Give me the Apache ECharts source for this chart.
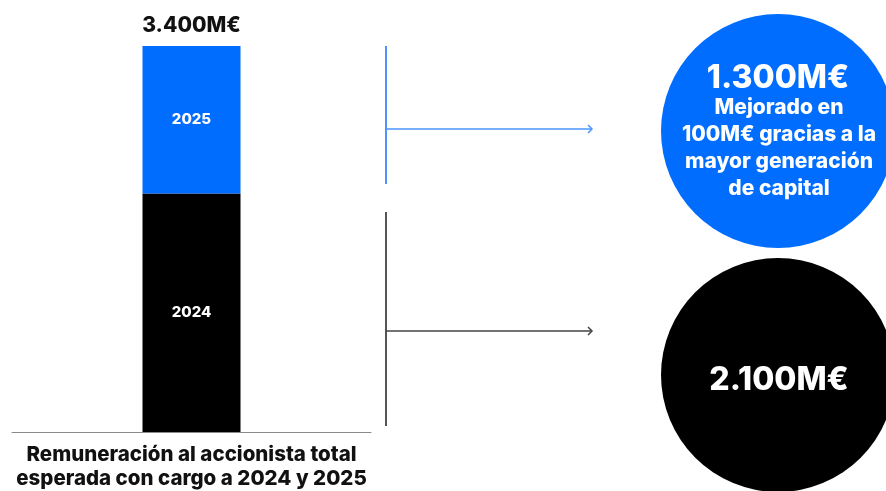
<!DOCTYPE html>
<html>
<head>
<meta charset="utf-8">
<script src="https://cdn.jsdelivr.net/npm/echarts@6/dist/echarts.min.js"></script>
<style>
  html, body { margin: 0; padding: 0; background: #fff; }
  #chart { width: 886px; height: 491px; }
</style>
</head>
<body>
<div id="chart"></div>
<script>
// datos
let categories = ['Remuneración al accionista total\nesperada con cargo a 2024 y 2025']
let years = ['2024', '2025']
let values2024 = [2100]
let values2025 = [1300]
let totalLabel = '3.400M€'
let circleMain = ['2.100M€', '1.300M€']
let circleNote = 'Mejorado en\n100M€ gracias a la\nmayor generación\nde capital'

let font = 'Inter'
let blue = '#006dff'
let black = '#000000'

let myChart = echarts.init(document.getElementById('chart'))
let option = {
  animation: false,
  grid: {
    left: 12,
    right: 515,
    top: 46,
    bottom: 53
  },
  xAxis: {
    type: 'category',
    data: categories,
    axisTick: { show: false },
    axisLine: {
      lineStyle: { color: '#8a8a8a', width: 1 }
    },
    axisLabel: {
      color: '#111',
      fontFamily: font,
      fontWeight: 800,
      fontSize: 20.5,
      lineHeight: 24,
      margin: 11
    }
  },
  yAxis: {
    type: 'value',
    min: 0,
    max: 3400,
    show: false,
    splitLine: { show: false }
  },
  series: [
    {
      name: years[0],
      type: 'bar',
      stack: 'total',
      barWidth: 98,
      itemStyle: { color: black },
      label: {
        show: true,
        position: 'inside',
        formatter: years[0],
        color: '#fff',
        fontFamily: font,
        fontWeight: 800,
        fontSize: 15
      },
      data: values2024
    },
    {
      name: years[1],
      type: 'bar',
      stack: 'total',
      barWidth: 98,
      itemStyle: { color: blue },
      label: {
        show: true,
        position: 'inside',
        formatter: years[1],
        color: '#fff',
        fontFamily: font,
        fontWeight: 800,
        fontSize: 15
      },
      data: values2025
    },
    {
      // etiqueta del total encima de la barra
      type: 'bar',
      stack: 'total',
      barWidth: 98,
      itemStyle: { color: 'transparent' },
      label: {
        show: true,
        position: 'top',
        distance: 10,
        formatter: totalLabel,
        color: '#111',
        fontFamily: font,
        fontWeight: 800,
        fontSize: 21
      },
      data: [0]
    }
  ],
  graphic: [
    // corchete azul
    { type: 'line', shape: { x1: 386, y1: 46, x2: 386, y2: 184 }, style: { stroke: '#4d94ff', lineWidth: 2 } },
    { type: 'line', shape: { x1: 386, y1: 129, x2: 591, y2: 129 }, style: { stroke: '#4d94ff', lineWidth: 1.5 } },
    { type: 'polyline', shape: { points: [[588, 125], [592, 129], [588, 133]] }, style: { stroke: '#4d94ff', lineWidth: 1.5, fill: null } },
    // corchete negro
    { type: 'line', shape: { x1: 386, y1: 212, x2: 386, y2: 426 }, style: { stroke: '#555', lineWidth: 2 } },
    { type: 'line', shape: { x1: 386, y1: 331, x2: 591, y2: 331 }, style: { stroke: '#444', lineWidth: 1.5 } },
    { type: 'polyline', shape: { points: [[588, 327], [592, 331], [588, 335]] }, style: { stroke: '#444', lineWidth: 1.5, fill: null } },
    // circulos
    { type: 'circle', shape: { cx: 778, cy: 131, r: 117 }, style: { fill: blue } },
    { type: 'circle', shape: { cx: 778, cy: 375, r: 117 }, style: { fill: black } },
    {
      type: 'text', x: 778, y: 78,
      style: { text: circleMain[1], fill: '#fff', font: '800 32px ' + font, textAlign: 'center', textVerticalAlign: 'middle' }
    },
    {
      type: 'text', x: 779, y: 148,
      style: { text: circleNote, fill: '#fff', font: '800 21px ' + font, lineHeight: 27, textAlign: 'center', textVerticalAlign: 'middle' }
    },
    {
      type: 'text', x: 779, y: 380,
      style: { text: circleMain[0], fill: '#fff', font: '800 32px ' + font, textAlign: 'center', textVerticalAlign: 'middle' }
    }
  ]
}
myChart.setOption(option)
</script>
</body>
</html>
